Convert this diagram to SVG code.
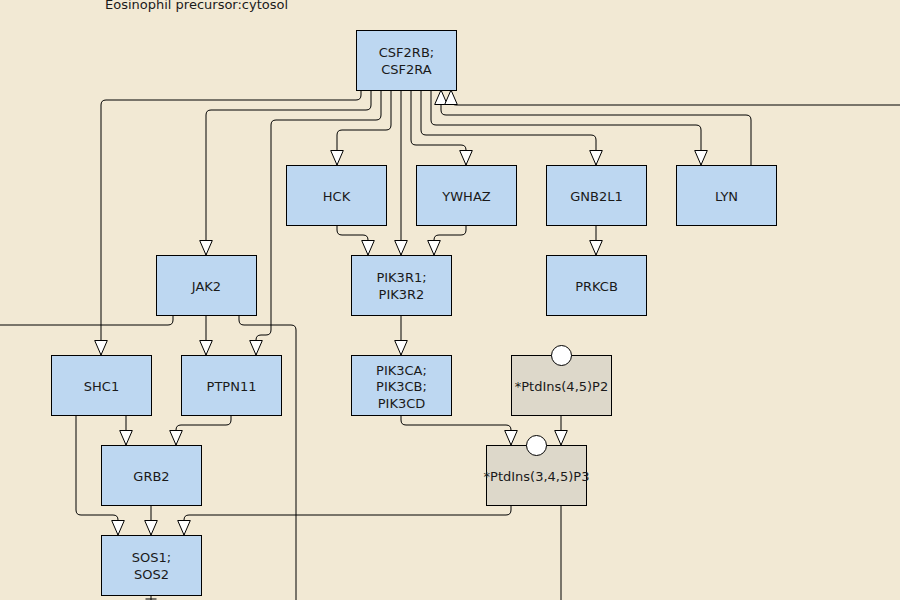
<svg xmlns="http://www.w3.org/2000/svg" width="900" height="600" viewBox="0 0 900 600">
<style>
.bg{fill:#f2e9d4}
.p{fill:#bdd7f1;stroke:#000;stroke-width:1}
.m{fill:#ddd8ca;stroke:#000;stroke-width:1}
.t{font-family:"DejaVu Sans",sans-serif;font-size:13px;fill:#1a1a1a;text-anchor:middle}
.title{font-family:"DejaVu Sans",sans-serif;font-size:13px;fill:#1a1a1a}
.e{fill:none;stroke:#000;stroke-width:1}
.ea{fill:none;stroke:#000;stroke-width:1;marker-end:url(#a)}
.c{fill:#fff;stroke:#000;stroke-width:1}
</style>
<defs>
<marker id="a" markerWidth="16" markerHeight="14" refX="15" refY="7" orient="auto" markerUnits="userSpaceOnUse" viewBox="0 0 16 14">
<path d="M0.5,0.7 L15,7 L0.5,13.3 Z" fill="#fff" stroke="#000" stroke-width="1"/>
</marker>
</defs>
<rect class="bg" x="0" y="0" width="900" height="600"/>
<text class="title" x="105" y="9">Eosinophil precursor:cytosol</text>

<g id="connectors">
<path class="ea" d="M361,90 V95 Q361,100 356,100 H106 Q101,100 101,105 V355"/>
<path class="ea" d="M371,90 V105 Q371,110 366,110 H211 Q206,110 206,115 V255"/>
<path class="ea" d="M381,90 V115 Q381,120 376,120 H276 Q271,120 271,125 V330 Q271,335 266,335 H261 Q256,335 256,340 V355"/>
<path class="ea" d="M391,90 V125 Q391,130 386,130 H342 Q337,130 337,135 V165"/>
<path class="ea" d="M401,90 V255"/>
<path class="ea" d="M411,90 V140 Q411,145 416,145 H461 Q466,145 466,150 V165"/>
<path class="ea" d="M421,90 V130 Q421,135 426,135 H591 Q596,135 596,140 V165"/>
<path class="ea" d="M431,90 V120 Q431,125 436,125 H696 Q701,125 701,130 V165"/>
<path class="ea" d="M751,165 V120 Q751,115 746,115 H446 Q441,115 441,110 V90"/>
<path class="ea" d="M900,105 H456 Q451,105 451,100 V90"/>
<path class="ea" d="M337,225 V230 Q337,235 342,235 H363 Q368,235 368,240 V255"/>
<path class="ea" d="M466,225 V230 Q466,235 461,235 H439 Q434,235 434,240 V255"/>
<path class="ea" d="M596,225 V255"/>
<path class="e" d="M173,315 V320 Q173,325 168,325 H0"/>
<path class="ea" d="M206,315 V355"/>
<path class="e" d="M239,315 V320 Q239,325 244,325 H291 Q296,325 296,330 V600"/>
<path class="ea" d="M401,315 V355"/>
<path class="ea" d="M126,415 V445"/>
<path class="ea" d="M76,415 V510 Q76,515 81,515 H113 Q118,515 118,520 V535"/>
<path class="ea" d="M231,415 V420 Q231,425 226,425 H181 Q176,425 176,430 V445"/>
<path class="ea" d="M151,505 V535"/>
<path class="ea" d="M511,505 V510 Q511,515 506,515 H189 Q184,515 184,520 V535"/>
<path class="e" d="M561,505 V600"/>
<path class="ea" d="M401,415 V420 Q401,425 406,425 H506 Q511,425 511,430 V445"/>
<path class="ea" d="M561,415 V445"/>
<path class="e" d="M151,595 V600 M145.5,599 H156.5"/>
</g>

<g id="CSF2RB"><rect class="p" x="356.5" y="30.5" width="100" height="60"/><text class="t" x="406.5" y="57">CSF2RB;</text><text class="t" x="406.5" y="73.5">CSF2RA</text></g>
<g id="HCK"><rect class="p" x="286.5" y="165.5" width="100" height="60"/><text class="t" x="336.5" y="201">HCK</text></g>
<g id="YWHAZ"><rect class="p" x="416.5" y="165.5" width="100" height="60"/><text class="t" x="466.5" y="201">YWHAZ</text></g>
<g id="GNB2L1"><rect class="p" x="546.5" y="165.5" width="100" height="60"/><text class="t" x="596.5" y="201">GNB2L1</text></g>
<g id="LYN"><rect class="p" x="676.5" y="165.5" width="100" height="60"/><text class="t" x="726.5" y="201">LYN</text></g>
<g id="JAK2"><rect class="p" x="156.5" y="255.5" width="100" height="60"/><text class="t" x="206.5" y="291">JAK2</text></g>
<g id="PIK3R1"><rect class="p" x="351.5" y="255.5" width="100" height="60"/><text class="t" x="401.5" y="282">PIK3R1;</text><text class="t" x="401.5" y="298.5">PIK3R2</text></g>
<g id="PRKCB"><rect class="p" x="546.5" y="255.5" width="100" height="60"/><text class="t" x="596.5" y="291">PRKCB</text></g>
<g id="SHC1"><rect class="p" x="51.5" y="355.5" width="100" height="60"/><text class="t" x="101.5" y="391">SHC1</text></g>
<g id="PTPN11"><rect class="p" x="181.5" y="355.5" width="100" height="60"/><text class="t" x="231.5" y="391">PTPN11</text></g>
<g id="PIK3CA"><rect class="p" x="351.5" y="355.5" width="100" height="60"/><text class="t" x="401.5" y="374.5">PIK3CA;</text><text class="t" x="401.5" y="391">PIK3CB;</text><text class="t" x="401.5" y="407.5">PIK3CD</text></g>
<g id="PtdIns45P2"><rect class="m" x="511.5" y="355.5" width="100" height="60"/><circle class="c" cx="561.5" cy="355.5" r="10"/><text class="t" x="561.5" y="391">*PtdIns(4,5)P2</text></g>
<g id="GRB2"><rect class="p" x="101.5" y="445.5" width="100" height="60"/><text class="t" x="151.5" y="481">GRB2</text></g>
<g id="PtdIns345P3"><rect class="m" x="486.5" y="445.5" width="100" height="60"/><circle class="c" cx="536.5" cy="445.5" r="10"/><text class="t" x="536.5" y="481">*PtdIns(3,4,5)P3</text></g>
<g id="SOS1"><rect class="p" x="101.5" y="535.5" width="100" height="60"/><text class="t" x="151.5" y="562">SOS1;</text><text class="t" x="151.5" y="578.5">SOS2</text></g>
</svg>
